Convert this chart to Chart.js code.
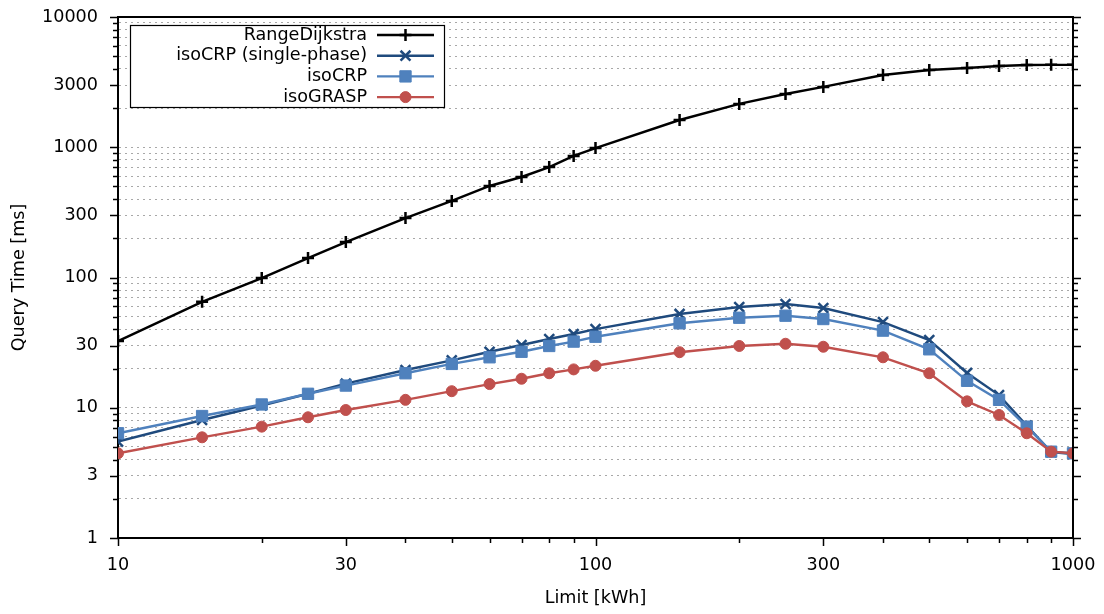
<!DOCTYPE html>
<html>
<head>
<meta charset="utf-8">
<script src="https://cdn.jsdelivr.net/npm/chart.js@4/dist/chart.umd.min.js"></script>
<style>
  html, body { margin: 0; padding: 0; background: #fff; }
  #wrap { width: 1104px; height: 614px; }
</style>
</head>
<body>
<div id="wrap"><canvas id="chart" width="1104" height="614"></canvas></div>
<script>
// limits in kWh
const limits = [10, 15, 20, 25, 30, 40, 50, 60, 70, 80, 90, 100, 150, 200, 250, 300, 400, 500, 600, 700, 800, 900, 1000];

// query times in ms
const rangeDijkstra = [32.5, 65, 99, 141, 187, 286, 387, 504, 591, 705, 857, 986, 1619, 2150, 2563, 2904, 3590, 3918, 4057, 4206, 4285, 4290, 4290];
const isoCRPSingle = [5.5, 8.05, 10.4, 12.8, 15.3, 19.5, 23.1, 26.9, 30.3, 33.7, 36.8, 40.1, 52.5, 59.4, 62.6, 58.3, 45.5, 33.1, 18.5, 12.5, 7.3, 4.57, 4.42];
const isoCRP = [6.37, 8.64, 10.6, 12.8, 14.8, 18.4, 21.7, 24.4, 26.9, 29.8, 32.2, 35.1, 44.5, 49.1, 50.9, 48.0, 39.1, 28.1, 16.1, 11.5, 7.16, 4.6, 4.47];
const isoGRASP = [4.47, 5.93, 7.16, 8.45, 9.61, 11.5, 13.4, 15.2, 16.7, 18.4, 19.7, 21.0, 26.7, 29.8, 31.0, 29.4, 24.4, 18.4, 11.2, 8.8, 6.37, 4.6, 4.47];

// axis ticks
const xTicks = [10, 20, 30, 40, 50, 60, 70, 80, 90, 100, 200, 300, 400, 500, 600, 700, 800, 900, 1000];
const xLabels = [10, 30, 100, 300, 1000];
const yTicks = [1, 2, 3, 4, 5, 6, 7, 8, 9, 10, 20, 30, 40, 50, 60, 70, 80, 90, 100, 200, 300, 400, 500, 600, 700, 800, 900,
  1000, 2000, 3000, 4000, 5000, 6000, 7000, 8000, 9000, 10000];
const yLabels = [1, 3, 10, 30, 100, 300, 1000, 3000, 10000];

const FONT = "'DejaVu Sans', sans-serif";
const FSIZE = 17.6;

function series(label, data, color, style, radius, order) {
  return {
    label: label,
    data: limits.map((x, i) => ({ x: x, y: data[i] })),
    borderColor: color,
    backgroundColor: color,
    borderWidth: 2.4,
    pointStyle: style,
    pointRadius: radius,
    pointBorderWidth: 2.5,
    pointBackgroundColor: color,
    pointBorderColor: color,
    tension: 0,
    order: order
  };
}

const datasets = [
  series('RangeDijkstra', rangeDijkstra, '#000000', 'cross', 6, 3),
  series('isoCRP (single-phase)', isoCRPSingle, '#1f4a7d', 'crossRot', 7, 2),
  series('isoCRP', isoCRP, '#4f81bd', 'rect', 8, 1),
  series('isoGRASP', isoGRASP, '#c0504d', 'circle', 5.5, 0)
];
datasets[3].pointBorderWidth = 1;
datasets[2].pointBorderWidth = 1;

// ticks, frame and the boxed legend, gnuplot style
const framePlugin = {
  id: 'frame',
  afterDraw(chart) {
    const ctx = chart.ctx;
    const a = chart.chartArea;
    const xs = chart.scales.x, ys = chart.scales.y;
    ctx.save();
    ctx.strokeStyle = '#000';
    ctx.lineWidth = 1.5;
    ctx.beginPath();
    yTicks.forEach(v => {
      const py = Math.round(ys.getPixelForValue(v)) + 0.5;
      const len = yLabels.includes(v) ? 8 : 5;
      ctx.moveTo(a.left - len, py); ctx.lineTo(a.left, py);
      ctx.moveTo(a.right, py); ctx.lineTo(a.right + len, py);
    });
    xTicks.forEach(v => {
      const px = Math.round(xs.getPixelForValue(v)) + 0.5;
      const len = xLabels.includes(v) ? 8 : 5;
      ctx.moveTo(px, a.bottom); ctx.lineTo(px, a.bottom + len);
    });
    ctx.stroke();

    ctx.lineWidth = 2;
    ctx.beginPath();
    ctx.moveTo(a.left, a.top); ctx.lineTo(a.right, a.top); ctx.lineTo(a.right, a.bottom);
    ctx.stroke();

    // legend
    const bx = 130, by = 25, bw = 314, bh = 82;
    ctx.fillStyle = '#fff';
    ctx.fillRect(bx, by, bw, bh);
    ctx.lineWidth = 1.2;
    ctx.strokeRect(bx + 0.5, by + 0.5, bw, bh);
    ctx.font = FSIZE + 'px ' + FONT;
    ctx.textAlign = 'right';
    ctx.textBaseline = 'middle';
    chart.data.datasets.forEach((ds, i) => {
      const ry = 35 + i * 20.7;
      ctx.fillStyle = '#000';
      ctx.fillText(ds.label, 367, ry);
      ctx.strokeStyle = ds.borderColor;
      ctx.lineWidth = 2.4;
      ctx.beginPath();
      ctx.moveTo(377, ry); ctx.lineTo(434, ry);
      ctx.stroke();
      ctx.fillStyle = ds.borderColor;
      ctx.lineWidth = ds.pointBorderWidth;
      Chart.helpers.drawPoint(ctx, { pointStyle: ds.pointStyle, radius: ds.pointRadius, rotation: 0, borderWidth: ds.pointBorderWidth }, 405.5, ry);
    });
    ctx.restore();
  }
};

new Chart(document.getElementById('chart'), {
  type: 'line',
  data: { datasets: datasets },
  plugins: [framePlugin],
  options: {
    responsive: false,
    animation: false,
    layout: { padding: { left: 0, right: 31, top: 17, bottom: 0 } },
    plugins: {
      legend: { display: false },
      tooltip: { enabled: false }
    },
    scales: {
      x: {
        type: 'logarithmic',
        min: 10,
        max: 1000,
        afterBuildTicks: s => { s.ticks = xTicks.map(v => ({ value: v })); },
        afterFit: s => { s.height = 76; s.paddingLeft = 0; s.paddingRight = 0; },
        grid: { display: false, drawTicks: false },
        border: { display: true, color: '#000', width: 2 },
        ticks: {
          autoSkip: false,
          maxRotation: 0,
          padding: 17,
          color: '#000',
          font: { family: FONT, size: FSIZE },
          callback: v => xLabels.includes(v) ? String(v) : ''
        },
        title: {
          display: true,
          text: 'Limit [kWh]',
          color: '#000',
          font: { family: FONT, size: FSIZE },
          padding: { top: 0, bottom: 5 }
        }
      },
      y: {
        type: 'logarithmic',
        min: 1,
        max: 10000,
        afterBuildTicks: s => { s.ticks = yTicks.map(v => ({ value: v })); },
        afterFit: s => { s.width = 118; s.paddingTop = 0; s.paddingBottom = 0; },
        grid: { color: '#a8a8a8', lineWidth: 1, drawTicks: false },
        border: { display: true, color: '#000', width: 2, dash: [2, 4] },
        ticks: {
          autoSkip: false,
          padding: 20,
          color: '#000',
          font: { family: FONT, size: FSIZE },
          callback: v => yLabels.includes(v) ? String(v) : ''
        },
        title: {
          display: true,
          text: 'Query Time [ms]',
          color: '#000',
          font: { family: FONT, size: FSIZE },
          padding: { top: 9, bottom: 0 }
        }
      }
    }
  }
});
</script>
</body>
</html>
